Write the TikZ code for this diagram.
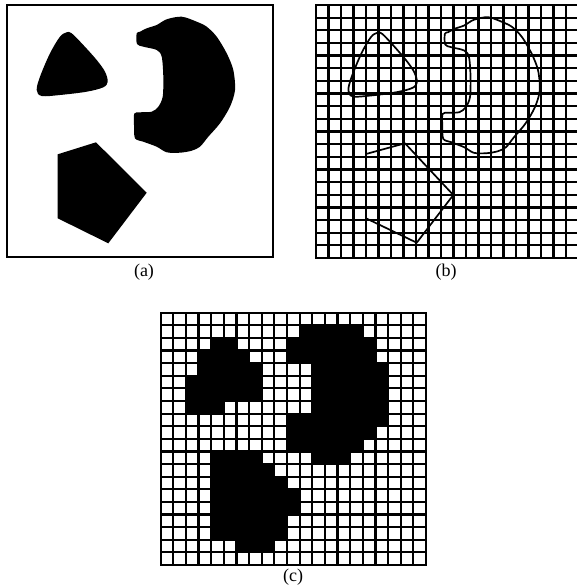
\documentclass[tikz,border=0pt]{standalone}
\usepackage{fontspec}
\setmainfont{Liberation Serif}
\begin{document}
\begin{tikzpicture}[x=1pt,y=-1pt,
  frame/.style={draw=black,line width=2pt},
  gridline/.style={draw=black,line width=2.2pt,line cap=rect},
  outline/.style={draw=black,line width=1.7pt,line join=round},
  lbl/.style={font=\fontsize{18}{20}\selectfont,inner sep=0pt}]
\useasboundingbox (0,0) rectangle (577,588);
% ---------- shapes ----------
\def\triangleshape{plot[smooth cycle,tension=0.55] coordinates {(66.7,32.3) (71.7,33.3) (83.3,45) (96.7,60) (105,71.7) (107.7,81.7) (103.3,87.3) (86.7,91.7) (60,95) (41.7,96) (36.7,90) (40,76.7) (50,53.3) (60,36.7)}}
\def\cshape{plot[smooth cycle,tension=0.5] coordinates {(136.7,33.3) (140,31.7) (146.7,28.3) (156.7,25) (166.7,19.3) (181.7,16.7) (196.7,21.7) (206.7,26.7) (216.7,36.7) (226.7,53.3) (233.3,70) (235,90) (230,106.7) (220,123.3) (208.3,136.7) (200,146.7) (191.7,150.7) (180,152.7) (166.7,152.3) (156.7,146.7) (143.3,141.7) (135,138.3) (134,125) (134.3,113.5) (140,112.3) (151.7,111.7) (158.3,106.7) (162.7,96.7) (163.3,76.7) (161.7,56.7) (156.7,50) (143.3,46.7) (137,44)}}
% ---------- panel (a) ----------
\draw[frame] (7.3,5.3) rectangle (272.7,257.3);
\fill[black] \triangleshape;
\fill[black] \cshape;
\fill[black] (57.7,154.3) -- (96,142.3) -- (146.7,192.7) -- (108.3,243.3) -- (57.7,218.3) -- cycle;
\node[lbl] (la) at (144,272) {(a)};
% ---------- panel (b) ----------
\begin{scope}
\clip (300,0) rectangle (577,270);
\foreach \i in {0,...,21} \draw[gridline] ({316+12.5*\i},5) -- ({316+12.5*\i},258);
\foreach \j in {0,...,20} \draw[gridline] (316,{5+12.65*\j}) -- (578.5,{5+12.65*\j});
\end{scope}
\begin{scope}[shift={(312.96,0.5)},xscale=0.965]
\draw[outline] \triangleshape;
\draw[outline] \cshape;
\end{scope}
\draw[outline] (366,154) -- (405,143.3) -- (453.3,195) -- (416.7,242.7) -- (366,218.3) -- cycle;
\node[lbl] (lb) at (446,272) {(b)};
% ---------- panel (c) ----------
\foreach \r/\a/\b in {1/11/15, 2/4/5, 2/10/16, 3/3/6, 3/10/16, 4/3/7, 4/12/17,
  5/2/7, 5/12/17, 6/2/7, 6/12/17, 7/2/4, 7/12/17, 8/10/17, 9/10/16, 10/10/15,
  11/4/7, 11/12/14, 12/4/8, 13/4/9, 14/4/10, 15/4/10, 16/4/9, 17/4/9, 18/6/8}
  \fill[black] ({160.7+\a*12.63},{312.7+\r*12.615}) rectangle ({160.7+(\b+1)*12.63},{312.7+(\r+1)*12.615});
\foreach \i in {0,...,21} \draw[gridline] ({160.7+12.63*\i},312.7) -- ({160.7+12.63*\i},565);
\foreach \j in {0,...,20} \draw[gridline] (160.7,{312.7+12.615*\j}) -- (426,{312.7+12.615*\j});
\node[lbl] (lc) at (293,577) {(c)};
\end{tikzpicture}
\end{document}
